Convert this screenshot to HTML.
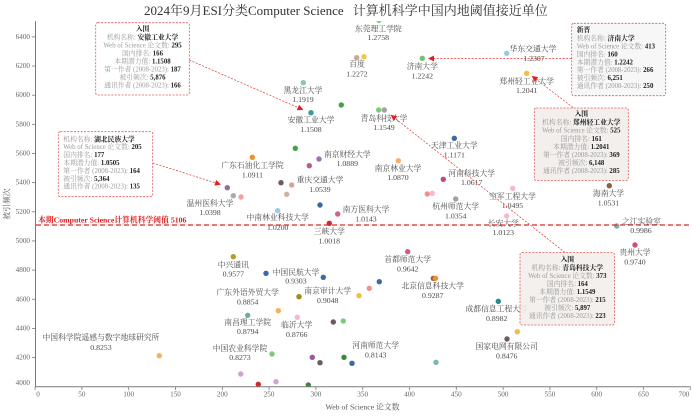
<!DOCTYPE html>
<html><head><meta charset="utf-8"><style>
html,body{margin:0;padding:0;background:#fff;}
svg{display:block;}
text{font-family:"Liberation Serif","Noto Serif CJK SC",serif;}
.lb{font-size:7.8px;fill:#4a4a4a;text-anchor:middle;dominant-baseline:central;}
.tk{font-size:7.2px;fill:#666;dominant-baseline:central;}
.tt{font-size:6.8px;dominant-baseline:central;}
.g{fill:#9a9a9a;}
.b{fill:#222;font-weight:bold;}
</style></head><body>
<svg width="693" height="417" viewBox="0 0 693 417" xmlns="http://www.w3.org/2000/svg">
<defs>
<marker id="ah" markerWidth="6" markerHeight="6" refX="5" refY="3" orient="auto" markerUnits="userSpaceOnUse">
<path d="M0,0 L6,3 L0,6 z" fill="#e02020"/>
</marker>
<clipPath id="plot"><rect x="36" y="21" width="660" height="366"/></clipPath>
</defs>

<!-- title -->
<text x="144" y="15" font-size="13" fill="#333">2024年9月ESI分类Computer Science<tspan x="352.7">计算机科学中国内地阈值接近单位</tspan></text>

<!-- points -->
<g clip-path="url(#plot)">
<circle cx="379" cy="20.5" r="2.7" fill="#8fd18f"/>
<circle cx="356.7" cy="57.7" r="2.7" fill="#c9a89a"/>
<circle cx="364" cy="56.7" r="2.7" fill="#efc84a"/>
<circle cx="422.3" cy="58.3" r="2.7" fill="#6cc46c"/>
<circle cx="506.7" cy="53.3" r="2.7" fill="#9ecae1"/>
<circle cx="526.7" cy="73.3" r="2.7" fill="#f0c040"/>
<circle cx="303.3" cy="82.7" r="2.7" fill="#88c4b8"/>
<circle cx="341.3" cy="105" r="2.7" fill="#4aa04a"/>
<circle cx="311" cy="112.7" r="2.7" fill="#3a9a9a"/>
<circle cx="378.7" cy="110" r="2.7" fill="#7ccb7c"/>
<circle cx="384.3" cy="110" r="2.7" fill="#aaa09a"/>
<circle cx="454.3" cy="138.3" r="2.7" fill="#3a6aa0"/>
<circle cx="295.3" cy="148.3" r="2.7" fill="#4a9f4a"/>
<circle cx="252.3" cy="157.3" r="2.7" fill="#f0902a"/>
<circle cx="319" cy="159" r="2.7" fill="#a070b0"/>
<circle cx="309.3" cy="165.7" r="2.7" fill="#c05a8a"/>
<circle cx="398.3" cy="160.7" r="2.7" fill="#f5b060"/>
<circle cx="443.3" cy="179.3" r="2.7" fill="#c04a7a"/>
<circle cx="281" cy="182.7" r="2.7" fill="#6b5b5b"/>
<circle cx="291.7" cy="185" r="2.7" fill="#d4a890"/>
<circle cx="286.7" cy="194.3" r="2.7" fill="#d0b0a0"/>
<circle cx="227.3" cy="187.7" r="2.7" fill="#9a6a9a"/>
<circle cx="233.3" cy="195.7" r="2.7" fill="#aaaaaa"/>
<circle cx="241" cy="197" r="2.7" fill="#f4a0a0"/>
<circle cx="609.3" cy="185.7" r="2.7" fill="#8c6040"/>
<circle cx="512.7" cy="188.3" r="2.7" fill="#f7b6d2"/>
<circle cx="427.3" cy="194" r="2.7" fill="#f4908a"/>
<circle cx="432.3" cy="193.3" r="2.7" fill="#f7b6d2"/>
<circle cx="455.7" cy="199" r="2.7" fill="#a8a098"/>
<circle cx="320" cy="205" r="2.7" fill="#3a6aa0"/>
<circle cx="277.7" cy="210.7" r="2.7" fill="#9ecae1"/>
<circle cx="337.7" cy="214" r="2.7" fill="#d06090"/>
<circle cx="506.7" cy="216" r="2.7" fill="#f7b6d2"/>
<circle cx="329.3" cy="223.3" r="2.7" fill="#d62728"/>
<circle cx="616.7" cy="226" r="2.7" fill="#80a8a0"/>
<circle cx="635" cy="245" r="2.7" fill="#c8507a"/>
<circle cx="407.7" cy="251.7" r="2.7" fill="#d05a80"/>
<circle cx="233.3" cy="256.7" r="2.7" fill="#b89a2a"/>
<circle cx="266" cy="273.3" r="2.7" fill="#3a6aa8"/>
<circle cx="323.3" cy="277.3" r="2.7" fill="#3a6aa8"/>
<circle cx="433.3" cy="278.3" r="2.7" fill="#a0603a"/>
<circle cx="435.5" cy="278.3" r="2.7" fill="#e8903a"/>
<circle cx="379.3" cy="281.7" r="2.7" fill="#3a6aa8"/>
<circle cx="369.3" cy="288.3" r="2.7" fill="#f4908a"/>
<circle cx="359" cy="295.7" r="2.7" fill="#f0c040"/>
<circle cx="299" cy="296.7" r="2.7" fill="#a08a1a"/>
<circle cx="498.3" cy="301.3" r="2.7" fill="#2a8a8a"/>
<circle cx="278.3" cy="310.7" r="2.7" fill="#f5b060"/>
<circle cx="297.3" cy="317.3" r="2.7" fill="#f7b6d2"/>
<circle cx="247.7" cy="315.3" r="2.7" fill="#6ab0a8"/>
<circle cx="333.3" cy="322" r="2.7" fill="#6b5b5b"/>
<circle cx="343.3" cy="321" r="2.7" fill="#7ccb7c"/>
<circle cx="517.3" cy="331.7" r="2.7" fill="#f0c040"/>
<circle cx="507" cy="339" r="2.7" fill="#6b5b5b"/>
<circle cx="159.3" cy="355.7" r="2.7" fill="#f5b060"/>
<circle cx="272" cy="354" r="2.7" fill="#7ccb7c"/>
<circle cx="312.3" cy="357.3" r="2.7" fill="#9a5a9a"/>
<circle cx="320" cy="362.7" r="2.7" fill="#6b5b5b"/>
<circle cx="344" cy="357.3" r="2.7" fill="#3a8a3a"/>
<circle cx="352" cy="363.3" r="2.7" fill="#3a6aa8"/>
<circle cx="436" cy="362.3" r="2.7" fill="#7ab8b0"/>
<circle cx="240.7" cy="374" r="2.7" fill="#d4a0d0"/>
<circle cx="276" cy="381.7" r="2.7" fill="#d4a0d0"/>
<circle cx="258.3" cy="384.3" r="2.7" fill="#d62728"/>
<circle cx="308.3" cy="385" r="2.7" fill="#3a8a3a"/>
</g>

<!-- threshold -->
<line x1="36" y1="225" x2="690" y2="225" stroke="#e02828" stroke-width="1.3" stroke-dasharray="5,3"/>
<text x="38" y="220" font-size="7.8" font-weight="bold" fill="#e31a1c" dominant-baseline="central">本期Computer Science计算机科学阈值 5106</text>

<!-- axes -->
<g stroke="#7a7a7a" stroke-width="1">
<line x1="35.5" y1="21" x2="35.5" y2="387"/>
<line x1="35" y1="386.8" x2="690.5" y2="386.8"/>
</g>
<g stroke="#7a7a7a" stroke-width="0.8">
<line x1="32" y1="36.9" x2="35.5" y2="36.9"/>
<line x1="32" y1="66.05" x2="35.5" y2="66.05"/>
<line x1="32" y1="95.2" x2="35.5" y2="95.2"/>
<line x1="32" y1="124.35" x2="35.5" y2="124.35"/>
<line x1="32" y1="153.5" x2="35.5" y2="153.5"/>
<line x1="32" y1="182.65" x2="35.5" y2="182.65"/>
<line x1="32" y1="211.8" x2="35.5" y2="211.8"/>
<line x1="32" y1="240.95" x2="35.5" y2="240.95"/>
<line x1="32" y1="270.1" x2="35.5" y2="270.1"/>
<line x1="32" y1="299.25" x2="35.5" y2="299.25"/>
<line x1="32" y1="328.4" x2="35.5" y2="328.4"/>
<line x1="32" y1="357.55" x2="35.5" y2="357.55"/>
<line x1="35.1" y1="386.8" x2="35.1" y2="390"/>
<line x1="81.9" y1="386.8" x2="81.9" y2="390"/>
<line x1="128.7" y1="386.8" x2="128.7" y2="390"/>
<line x1="175.5" y1="386.8" x2="175.5" y2="390"/>
<line x1="222.3" y1="386.8" x2="222.3" y2="390"/>
<line x1="269.1" y1="386.8" x2="269.1" y2="390"/>
<line x1="315.9" y1="386.8" x2="315.9" y2="390"/>
<line x1="362.7" y1="386.8" x2="362.7" y2="390"/>
<line x1="409.5" y1="386.8" x2="409.5" y2="390"/>
<line x1="456.3" y1="386.8" x2="456.3" y2="390"/>
<line x1="503.1" y1="386.8" x2="503.1" y2="390"/>
<line x1="549.9" y1="386.8" x2="549.9" y2="390"/>
<line x1="596.7" y1="386.8" x2="596.7" y2="390"/>
<line x1="643.5" y1="386.8" x2="643.5" y2="390"/>
<line x1="690.3" y1="386.8" x2="690.3" y2="390"/>
</g>
<g class="tk" text-anchor="end">
<text x="30" y="36.9">6400</text>
<text x="30" y="66.05">6200</text>
<text x="30" y="95.2">6000</text>
<text x="30" y="124.35">5800</text>
<text x="30" y="153.5">5600</text>
<text x="30" y="182.65">5400</text>
<text x="30" y="211.8">5200</text>
<text x="30" y="240.95">5000</text>
<text x="30" y="270.1">4800</text>
<text x="30" y="299.25">4600</text>
<text x="30" y="328.4">4400</text>
<text x="30" y="357.55">4200</text>
<text x="30" y="383">4000</text>
</g>
<g class="tk" text-anchor="middle">
<text x="38" y="394.5">0</text>
<text x="81.9" y="394.5">50</text>
<text x="128.7" y="394.5">100</text>
<text x="175.5" y="394.5">150</text>
<text x="222.3" y="394.5">200</text>
<text x="269.1" y="394.5">250</text>
<text x="315.9" y="394.5">300</text>
<text x="362.7" y="394.5">350</text>
<text x="409.5" y="394.5">400</text>
<text x="456.3" y="394.5">450</text>
<text x="503.1" y="394.5">500</text>
<text x="549.9" y="394.5">550</text>
<text x="596.7" y="394.5">600</text>
<text x="643.5" y="394.5">650</text>
<text x="684" y="394.5">700</text>
</g>
<text x="362.5" y="407" font-size="7.8" fill="#555" text-anchor="middle" dominant-baseline="central">Web of Science 论文数</text>
<text transform="translate(7,204) rotate(-90)" font-size="7.8" fill="#555" text-anchor="middle" dominant-baseline="central">被引频次</text>

<!-- labels -->
<g class="lb">
<text x="378.3" y="29">东莞理工学院</text><text x="378.3" y="37.7">1.2758</text>
<text x="357" y="64">百度</text><text x="357" y="74">1.2272</text>
<text x="422.3" y="66.5">济南大学</text><text x="422.3" y="75.8">1.2242</text>
<text x="533" y="49">华东交通大学</text><text x="534" y="58.3">1.2307</text>
<text x="526.7" y="81.3">郑州轻工业大学</text><text x="526.7" y="90.3">1.2041</text>
<text x="303" y="90.3">黑龙江大学</text><text x="303" y="99.6">1.1919</text>
<text x="311" y="120">安徽工业大学</text><text x="311" y="129.3">1.1508</text>
<text x="384" y="118.3">青岛科技大学</text><text x="384" y="127.3">1.1549</text>
<text x="454.3" y="145.7">天津工业大学</text><text x="454.3" y="155">1.1171</text>
<text x="252.5" y="165.5">广东石油化工学院</text><text x="252.5" y="175">1.0911</text>
<text x="347.3" y="154.3">南京财经大学</text><text x="347.3" y="163.3">1.0889</text>
<text x="398" y="168.3">南京林业大学</text><text x="398" y="177.7">1.0870</text>
<text x="471.7" y="173.3">河南科技大学</text><text x="471.7" y="182.7">1.0617</text>
<text x="320" y="180">重庆交通大学</text><text x="320" y="189.3">1.0539</text>
<text x="210" y="203.3">温州医科大学</text><text x="210" y="212.7">1.0398</text>
<text x="608.5" y="193.3">海南大学</text><text x="608.5" y="203">1.0531</text>
<text x="512.5" y="196.7">空军工程大学</text><text x="512.5" y="205.7">1.0495</text>
<text x="455.7" y="206.7">杭州师范大学</text><text x="455.7" y="215.8">1.0354</text>
<text x="277.7" y="217.5">中南林业科技大学</text><text x="277.7" y="227.3">1.0200</text>
<text x="366" y="209.3">南方医科大学</text><text x="366" y="219">1.0143</text>
<text x="503.3" y="223.3">长安大学</text><text x="503.3" y="232.7">1.0123</text>
<text x="329.3" y="231.7">三峡大学</text><text x="329.3" y="240.8">1.0018</text>
<text x="641.5" y="221.5">之江实验室</text><text x="641" y="230.7">0.9986</text>
<text x="635" y="252.7">贵州大学</text><text x="635" y="261.8">0.9740</text>
<text x="407.7" y="259.3">首都师范大学</text><text x="407.7" y="269">0.9642</text>
<text x="233.3" y="265">中兴通讯</text><text x="233.3" y="274">0.9577</text>
<text x="296" y="272.3">中国民航大学</text><text x="296" y="281">0.9303</text>
<text x="432.7" y="286">北京信息科技大学</text><text x="432.7" y="295.3">0.9287</text>
<text x="247.7" y="292.7">广东外语外贸大学</text><text x="247.7" y="302">0.8854</text>
<text x="327.7" y="291">南京审计大学</text><text x="327.7" y="300.7">0.9048</text>
<text x="496.7" y="309">成都信息工程大学</text><text x="496.7" y="318.3">0.8982</text>
<text x="247.7" y="322.7">南昌理工学院</text><text x="247.7" y="331.7">0.8794</text>
<text x="296.7" y="325">临沂大学</text><text x="296.7" y="334.3">0.8766</text>
<text x="101" y="337.7">中国科学院遥感与数字地球研究所</text><text x="101" y="347.3">0.8253</text>
<text x="240" y="348.5">中国农业科学院</text><text x="240" y="357.7">0.8273</text>
<text x="506.7" y="346.7">国家电网有限公司</text><text x="506.7" y="356">0.8476</text>
<text x="375.7" y="345.7">河南师范大学</text><text x="375.7" y="355">0.8143</text>
</g>

<!-- arrows -->
<g stroke="#e03030" stroke-width="0.7" stroke-dasharray="2,1.5" fill="none">
<line x1="189.3" y1="60" x2="302.5" y2="109.5" marker-end="url(#ah)"/>
<line x1="571.7" y1="58.5" x2="429" y2="58.5" marker-end="url(#ah)"/>
<line x1="573" y1="107.5" x2="532.5" y2="76.5" marker-end="url(#ah)"/>
<line x1="565" y1="252.5" x2="391.5" y2="115.5" marker-end="url(#ah)"/>
<line x1="152.7" y1="163" x2="220" y2="184.3" marker-end="url(#ah)"/>
</g>

<!-- tooltips -->
<g stroke="#e05555" stroke-width="0.8" stroke-dasharray="2,1.4">
<rect x="95.7" y="22.7" width="93.6" height="72.3" rx="2" fill="#ffffff" fill-opacity="0.92"/>
<rect x="571.7" y="23.3" width="94" height="72.4" rx="2" fill="#f6f6f6" fill-opacity="0.92"/>
<rect x="534.3" y="108" width="94" height="72.5" rx="2" fill="#f2eeeb" fill-opacity="0.92"/>
<rect x="520" y="252.5" width="94.5" height="72.5" rx="2" fill="#f2eeeb" fill-opacity="0.88"/>
<rect x="58.3" y="131.7" width="94.4" height="65" rx="2" fill="#ffffff" fill-opacity="0.92"/>
</g>

<g class="tt" text-anchor="middle">
<text x="142.5" y="29.5" class="b">入围</text>
<text x="142.5" y="37.5"><tspan class="g">机构名称: </tspan><tspan class="b">安徽工业大学</tspan></text>
<text x="142.5" y="45.5"><tspan class="g">Web of Science 论文数: </tspan><tspan class="b">295</tspan></text>
<text x="142.5" y="53.5"><tspan class="g">国内排名: </tspan><tspan class="b">166</tspan></text>
<text x="142.5" y="61.5"><tspan class="g">本期潜力值: </tspan><tspan class="b">1.1508</tspan></text>
<text x="142.5" y="69.5"><tspan class="g">第一作者 (2008-2023): </tspan><tspan class="b">187</tspan></text>
<text x="142.5" y="77.5"><tspan class="g">被引频次: </tspan><tspan class="b">5,876</tspan></text>
<text x="142.5" y="85.5"><tspan class="g">通讯作者 (2008-2023): </tspan><tspan class="b">166</tspan></text>
</g>

<g class="tt" text-anchor="start">
<text x="576.7" y="30.7" class="b">新晋</text>
<text x="576.7" y="38.6"><tspan class="g">机构名称: </tspan><tspan class="b">济南大学</tspan></text>
<text x="576.7" y="46.5"><tspan class="g">Web of Science 论文数: </tspan><tspan class="b">413</tspan></text>
<text x="576.7" y="54.4"><tspan class="g">国内排名: </tspan><tspan class="b">160</tspan></text>
<text x="576.7" y="62.3"><tspan class="g">本期潜力值: </tspan><tspan class="b">1.2242</tspan></text>
<text x="576.7" y="70.2"><tspan class="g">第一作者 (2008-2023): </tspan><tspan class="b">266</tspan></text>
<text x="576.7" y="78.1"><tspan class="g">被引频次: </tspan><tspan class="b">6,251</tspan></text>
<text x="576.7" y="86"><tspan class="g">通讯作者 (2008-2023): </tspan><tspan class="b">250</tspan></text>
</g>

<g class="tt" text-anchor="middle">
<text x="581.3" y="114.5" class="b">入围</text>
<text x="581.3" y="122.6"><tspan class="g">机构名称: </tspan><tspan class="b">郑州轻工业大学</tspan></text>
<text x="581.3" y="130.7"><tspan class="g">Web of Science 论文数: </tspan><tspan class="b">525</tspan></text>
<text x="581.3" y="138.8"><tspan class="g">国内排名: </tspan><tspan class="b">161</tspan></text>
<text x="581.3" y="146.9"><tspan class="g">本期潜力值: </tspan><tspan class="b">1.2041</tspan></text>
<text x="581.3" y="155"><tspan class="g">第一作者 (2008-2023): </tspan><tspan class="b">369</tspan></text>
<text x="581.3" y="163.1"><tspan class="g">被引频次: </tspan><tspan class="b">6,148</tspan></text>
<text x="581.3" y="171.2"><tspan class="g">通讯作者 (2008-2023): </tspan><tspan class="b">285</tspan></text>
</g>

<g class="tt" text-anchor="middle">
<text x="567.3" y="260" class="b">入围</text>
<text x="567.3" y="268"><tspan class="g">机构名称: </tspan><tspan class="b">青岛科技大学</tspan></text>
<text x="567.3" y="276"><tspan class="g">Web of Science 论文数: </tspan><tspan class="b">373</tspan></text>
<text x="567.3" y="284"><tspan class="g">国内排名: </tspan><tspan class="b">164</tspan></text>
<text x="567.3" y="292"><tspan class="g">本期潜力值: </tspan><tspan class="b">1.1549</tspan></text>
<text x="567.3" y="300"><tspan class="g">第一作者 (2008-2023): </tspan><tspan class="b">215</tspan></text>
<text x="567.3" y="308"><tspan class="g">被引频次: </tspan><tspan class="b">5,897</tspan></text>
<text x="567.3" y="316"><tspan class="g">通讯作者 (2008-2023): </tspan><tspan class="b">223</tspan></text>
</g>

<g class="tt" text-anchor="start">
<text x="63.3" y="139.3"><tspan class="g">机构名称: </tspan><tspan class="b">湖北民族大学</tspan></text>
<text x="63.3" y="147.2"><tspan class="g">Web of Science 论文数: </tspan><tspan class="b">205</tspan></text>
<text x="63.3" y="155.1"><tspan class="g">国内排名: </tspan><tspan class="b">177</tspan></text>
<text x="63.3" y="163"><tspan class="g">本期潜力值: </tspan><tspan class="b">1.0505</tspan></text>
<text x="63.3" y="170.9"><tspan class="g">第一作者 (2008-2023): </tspan><tspan class="b">164</tspan></text>
<text x="63.3" y="178.8"><tspan class="g">被引频次: </tspan><tspan class="b">5,364</tspan></text>
<text x="63.3" y="186.7"><tspan class="g">通讯作者 (2008-2023): </tspan><tspan class="b">135</tspan></text>
</g>
</svg>
</body></html>
